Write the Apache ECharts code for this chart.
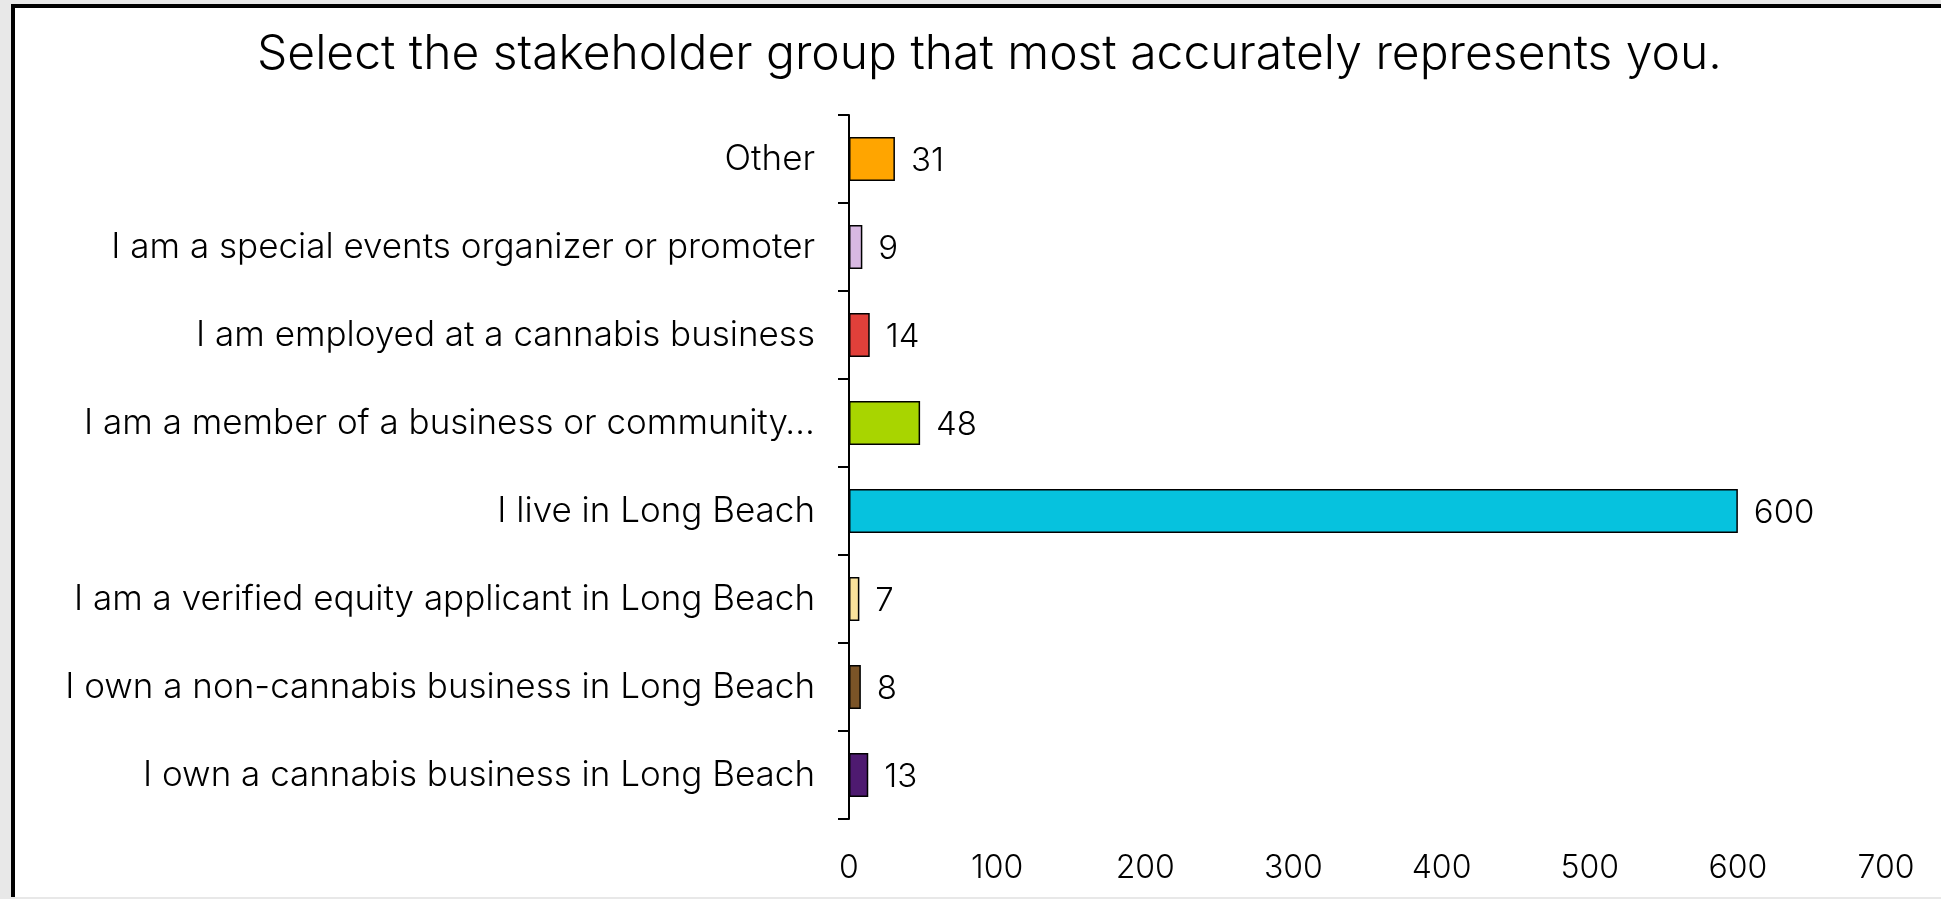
<!DOCTYPE html>
<html>
<head>
<meta charset="utf-8">
<script src="https://cdn.jsdelivr.net/npm/echarts@6/dist/echarts.min.js"></script>
<style>
html,body{margin:0;padding:0;width:1941px;height:899px;background:#e8e8e8;overflow:hidden;}
#box{position:absolute;left:11px;top:4px;width:2000px;height:889px;background:#fff;border-top:4px solid #000;border-left:4px solid #000;}
#chart{position:absolute;left:0;top:0;width:1941px;height:899px;}
</style>
</head>
<body>
<div id="box"></div>
<div id="chart"></div>
<script>
const titleText = "Select the stakeholder group that most accurately represents you.";
const categories = [
  "Other",
  "I am a special events organizer or promoter",
  "I am employed at a cannabis business",
  "I am a member of a business or community\u2026",
  "I live in Long Beach",
  "I am a verified equity applicant in Long Beach",
  "I own a non-cannabis business in Long Beach",
  "I own a cannabis business in Long Beach"
];
const values = [31, 9, 14, 48, 600, 7, 8, 13];
const colors = ["#FFA500", "#D8B8E2", "#E1403A", "#A8D500", "#06C2DE", "#F9E29B", "#7B5427", "#4E1A70"];
const xTicks = [0, 100, 200, 300, 400, 500, 600, 700];

const chart = echarts.init(document.getElementById('chart'), null, {renderer: 'canvas'});
const font = 'Inter';
chart.setOption({
  backgroundColor: 'transparent',
  animation: false,
  title: {
    text: titleText,
    left: 252,
    top: 26,
    textStyle: {fontFamily: font, fontSize: 48, fontWeight: 300, color: '#000'}
  },
  grid: {left: 849, right: 55, top: 115, bottom: 80, containLabel: false},
  xAxis: {
    type: 'value',
    min: xTicks[0],
    max: xTicks[xTicks.length - 1],
    interval: 100,
    axisLine: {show: false},
    axisTick: {show: false},
    splitLine: {show: false},
    axisLabel: {margin: 33, fontFamily: font, fontSize: 32, fontWeight: 300, color: '#000'}
  },
  yAxis: {
    type: 'category',
    data: categories,
    inverse: true,
    axisLine: {show: true, lineStyle: {color: '#000', width: 2}},
    axisTick: {show: true, length: 11, lineStyle: {color: '#000', width: 2}},
    axisLabel: {margin: 34, fontFamily: font, fontSize: 35, fontWeight: 300, color: '#000'}
  },
  series: [{
    type: 'bar',
    barWidth: '50%',
    data: values.map((v, i) => ({value: v, itemStyle: {color: colors[i]}})),
    itemStyle: {borderColor: '#000', borderWidth: 1.5},
    label: {show: true, position: 'right', distance: 16, fontFamily: font, fontSize: 33, fontWeight: 300, color: '#000', offset: [0, 2]}
  }]
});
</script>
</body>
</html>
